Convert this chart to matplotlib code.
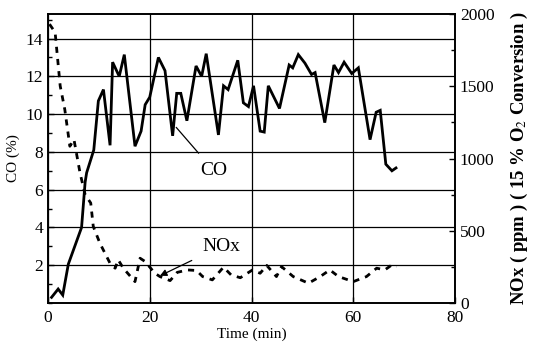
import matplotlib
matplotlib.use("Agg")
import matplotlib.pyplot as plt
from matplotlib.ticker import MultipleLocator

plt.rcParams['font.family'] = ['Liberation Serif', 'DejaVu Serif']
plt.rcParams['mathtext.fontset'] = 'stix'

# CO (%) vs time (min)
co_time = [0.7, 2.0, 2.9, 4.0, 6.6, 7.3, 7.6, 9.0, 9.9, 10.9, 12.2, 12.7, 14.0, 15.0,
           17.1, 18.3, 19.1, 20.0, 21.7, 23.0, 24.5, 25.3, 26.1, 27.3, 29.1, 30.2,
           31.1, 33.5, 34.5, 35.4, 37.3, 38.4, 39.4, 40.4, 41.7, 42.5, 43.3, 45.5,
           47.4, 48.1, 49.2, 50.5, 51.8, 52.5, 54.4, 56.2, 57.1, 58.2, 59.7, 61.0,
           63.3, 64.5, 65.3, 66.4, 67.6, 68.4]
co_val = [0.3, 0.74, 0.42, 2.06, 4.0, 6.4, 6.9, 8.1, 10.7, 11.3, 8.35, 12.75, 12.0, 13.15,
          8.3, 9.1, 10.5, 10.9, 13.0, 12.3, 8.85, 11.1, 11.1, 9.65, 12.55, 12.0,
          13.2, 8.9, 11.5, 11.3, 12.85, 10.6, 10.4, 11.5, 9.1, 9.05, 11.5, 10.3,
          12.6, 12.45, 13.15, 12.7, 12.1, 12.2, 9.55, 12.6, 12.2, 12.75, 12.15, 12.45,
          8.65, 10.1, 10.2, 7.35, 7.0, 7.15]

# NOx (ppm) vs time (min)
nox_time = [0.3, 1.4, 2.4, 3.3, 4.3, 5.1, 6.3, 7.3, 8.4, 8.9, 10.2, 12.2, 13.2, 13.8,
            14.8, 17.1, 18.1, 19.1, 21.0, 22.0, 24.0, 25.4, 27.4, 29.2, 30.4, 32.3,
            34.5, 36.0, 37.8, 40.2, 41.7, 43.0, 44.9, 45.9, 48.2, 51.2, 53.5, 55.4,
            57.1, 60.0, 62.6, 64.6, 66.2, 67.6, 68.5]
nox_val = [1930, 1873, 1502, 1340, 1085, 1132, 900, 750, 692, 530, 414, 275, 241, 299,
           241, 148, 310, 287, 206, 183, 155, 212, 229, 225, 183, 160,
           248, 194, 175, 229, 206, 260, 183, 252, 183, 137, 183, 229,
           183, 148, 183, 241, 229, 264, 252]

fig = plt.figure(figsize=(5.35, 3.42), dpi=100)
ax = fig.add_axes([0.0897, 0.114, 0.7608, 0.845])
ax2 = ax.twinx()

ax.plot(co_time, co_val, color='black', lw=2.0, solid_joinstyle='miter', zorder=3)
ax2.plot(nox_time, nox_val, color='black', lw=2.0, dashes=(2.2, 2.2), zorder=3)

ax.set_xlim(0, 80)
ax.set_ylim(0, 15.3)
ax2.set_ylim(0, 2000)

ax.set_xticks([0, 20, 40, 60, 80])
ax.set_yticks([2, 4, 6, 8, 10, 12, 14])
ax.yaxis.set_minor_locator(MultipleLocator(1))
ax2.set_yticks([0, 500, 1000, 1500, 2000])
ax2.yaxis.set_minor_locator(MultipleLocator(250))

ax.grid(True, which='major', color='black', lw=0.9)
ax.set_axisbelow(True)

for a in (ax, ax2):
    a.tick_params(which='both', direction='in', labelsize=12.5)
    a.tick_params(which='major', length=4, width=1)
    a.tick_params(which='minor', length=3, width=1)
    for s in a.spines.values():
        s.set_linewidth(1.2)
ax.tick_params(axis='x', pad=5)

ax.set_xlabel('Time (min)', fontsize=11, labelpad=1)
ax.set_ylabel('CO (%)', fontsize=11, labelpad=4)
ax2.set_ylabel('NOx ( ppm ) ( 15 % O$_2$ Conversion )', fontsize=13.5,
               fontweight='bold', labelpad=10)

ax.annotate('CO', xy=(25.2, 9.3), xytext=(32.6, 7.0), fontsize=14,
            ha='center', va='center',
            arrowprops=dict(arrowstyle='-', color='black', lw=0.9,
                            shrinkA=6, shrinkB=0))
ax.annotate('NOx', xy=(22.0, 1.44), xytext=(34.0, 3.0), fontsize=14,
            ha='center', va='center',
            arrowprops=dict(arrowstyle='-|>', color='black', lw=0.9,
                            mutation_scale=10, shrinkA=6, shrinkB=0))

fig.savefig('out.png', dpi=100)
